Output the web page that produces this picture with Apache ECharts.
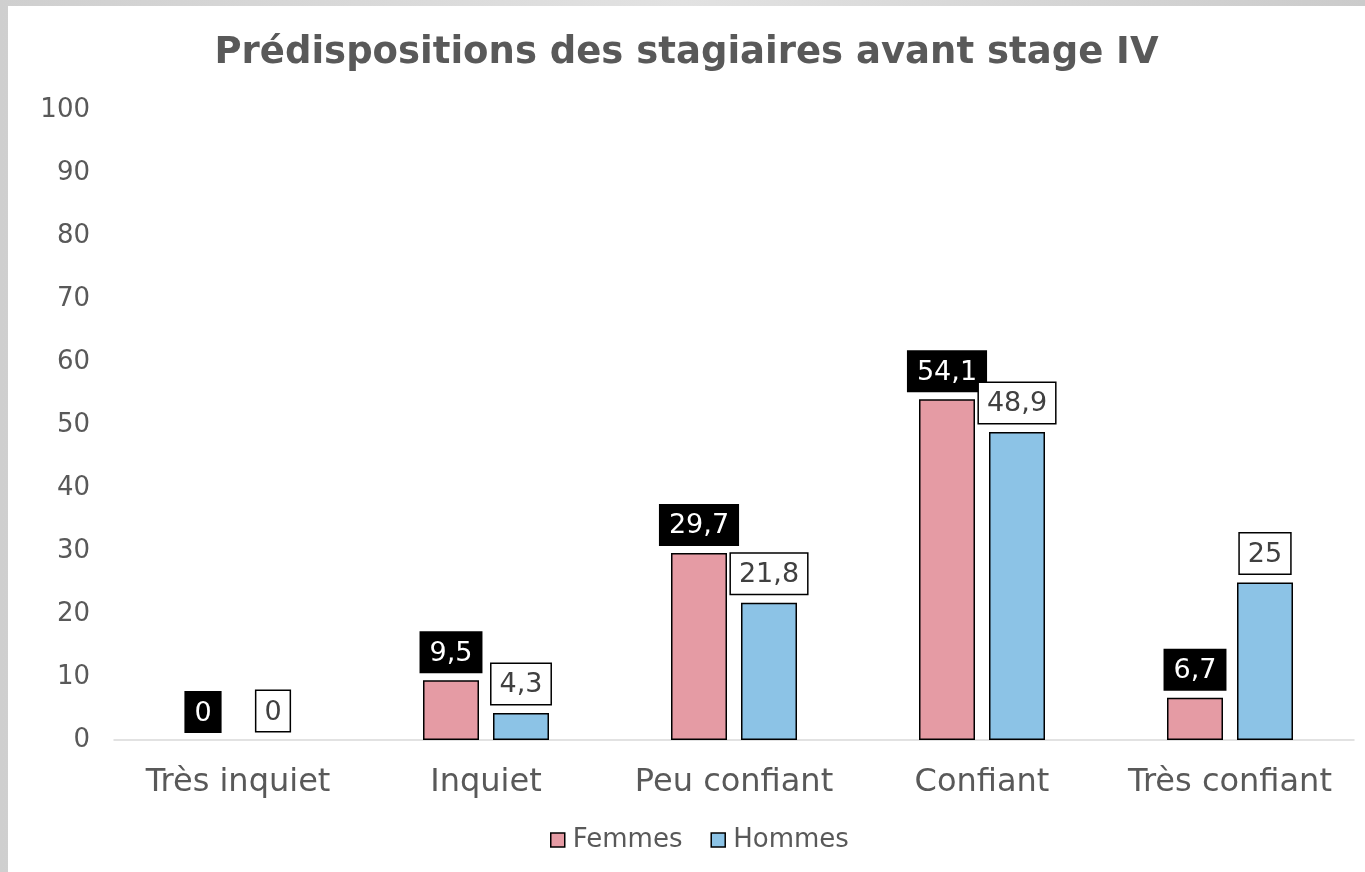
<!DOCTYPE html>
<html>
<head>
<meta charset="UTF-8">
<title>Prédispositions</title>
<script src="https://cdn.jsdelivr.net/npm/echarts@6/dist/echarts.min.js"></script>
<style>
	html, body { margin:0; padding:0; width:1365px; height:872px; overflow:hidden; }
	body { background: linear-gradient(90deg, #cfcfcf, #e2e2e2 50%, #cbcbcb); }
	#chart-div { position:absolute; left:8px; top:6px; width:1357px; height:866px; background:#fff; }
</style>
</head>
<body>
	<div id="chart-div"></div>

	<script type="text/javascript">
		var categories = ['Très inquiet', 'Inquiet', 'Peu confiant', 'Confiant', 'Très confiant'];
		var femmes = [0, 9.5, 29.7, 54.1, 6.7];
		var hommes = [0, 4.3, 21.8, 48.9, 25];
		var yTicks = [0, 10, 20, 30, 40, 50, 60, 70, 80, 90, 100];

		var textColor = '#595959';
		var font = '"DejaVu Sans", Verdana, sans-serif';

		function fmt(v){
			return String(v).replace('.', ',');
		}

		// no outline on empty bars
		function toItems(arr){
			return arr.map(function(v){
				return v === 0 ? { value: v, itemStyle: { borderWidth: 0 } } : v;
			});
		}

		window.onload = drawChart;

		function drawChart(){
			var myChart = echarts.init(document.getElementById('chart-div'));

			var option = {
				animation: false,
				backgroundColor: '#fff',
				textStyle: { fontFamily: font, color: textColor },
				title: {
					text: 'Prédispositions des stagiaires avant stage IV',
					left: 'center',
					top: 24,
					textStyle: { fontFamily: font, fontSize: 37, fontWeight: 'bold', color: textColor }
				},
				legend: {
					bottom: 14,
					left: 537,
					itemWidth: 14,
					itemHeight: 14,
					itemGap: 28,
					icon: 'rect',
					itemStyle: { borderColor: '#000', borderWidth: 1.5 },
					textStyle: { fontFamily: font, fontSize: 26, color: textColor, padding: [0, 0, 0, 3] },
					data: ['Femmes', 'Hommes']
				},
				grid: { left: 106, top: 104, width: 1240, height: 630, containLabel: false },
				xAxis: {
					type: 'category',
					data: categories,
					axisLine: { lineStyle: { color: '#d9d9d9', width: 1.5 } },
					axisTick: { show: false },
					axisLabel: { interval: 0, fontFamily: font, fontSize: 32, color: textColor, margin: 27 }
				},
				yAxis: {
					type: 'value',
					min: yTicks[0],
					max: yTicks[yTicks.length - 1],
					interval: 10,
					axisLine: { show: false },
					axisTick: { show: false },
					splitLine: { show: false },
					axisLabel: { fontFamily: font, fontSize: 26, color: textColor, margin: 24 }
				},
				series: [
					{
						name: 'Femmes',
						type: 'bar',
						data: toItems(femmes),
						barWidth: 56,
						barGap: '25%',
						itemStyle: { color: '#e59ba4', borderColor: '#000', borderWidth: 1.5 },
						label: {
							show: true,
							position: 'top',
							distance: 7,
							formatter: function(p){ return fmt(p.value); },
							fontFamily: font,
							fontSize: 27,
							color: '#fff',
							backgroundColor: '#000',
							padding: [9, 10, 6, 10]
						}
					},
					{
						name: 'Hommes',
						type: 'bar',
						data: toItems(hommes),
						barWidth: 56,
						itemStyle: { color: '#8cc3e6', borderColor: '#000', borderWidth: 1.5 },
						label: {
							show: true,
							position: 'top',
							distance: 9,
							formatter: function(p){ return fmt(p.value); },
							fontFamily: font,
							fontSize: 27,
							color: '#404040',
							backgroundColor: '#fff',
							borderColor: '#000',
							borderWidth: 1.5,
							padding: [8, 8, 5, 8]
						}
					}
				]
			};

			myChart.setOption(option);
		}
	</script>
</body>
</html>
